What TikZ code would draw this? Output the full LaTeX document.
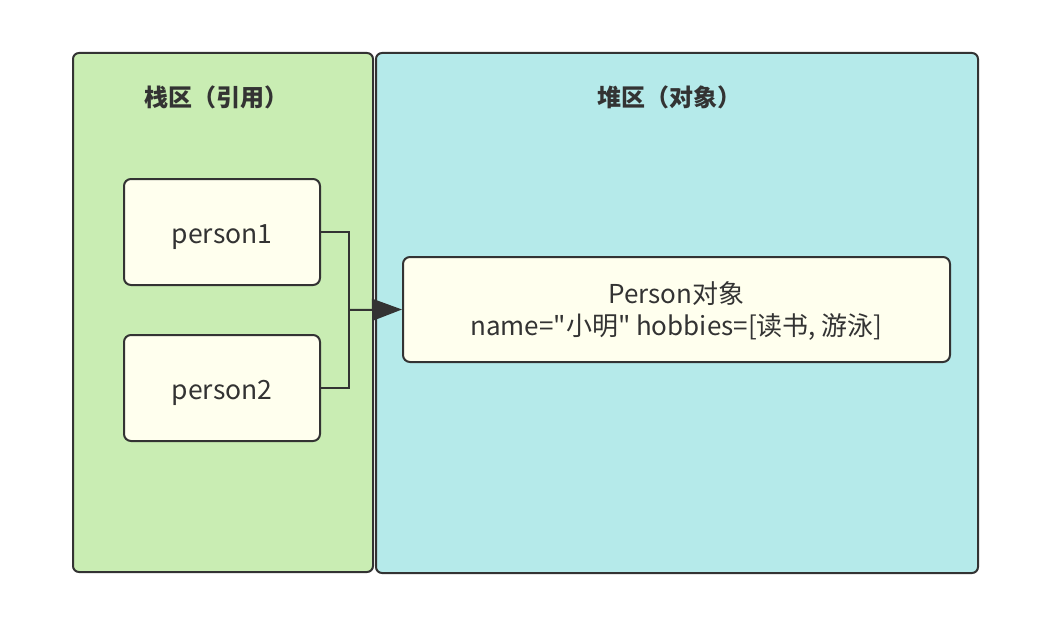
\documentclass[tikz,border=0pt]{standalone}
\usepackage{fontspec}
\setmainfont{Noto Sans CJK SC}
\newfontfamily\plainfont{Noto Sans CJK SC}
\usetikzlibrary{arrows.meta}
\definecolor{stackfill}{HTML}{C9EDB3}
\definecolor{heapfill}{HTML}{B5EAEA}
\definecolor{boxfill}{HTML}{FFFFEE}
\definecolor{edge}{HTML}{333333}
\begin{document}
\begin{tikzpicture}[x=1pt,y=-1pt,
  panel/.style={draw=edge,line width=2pt,rounded corners=6pt},
  itembox/.style={draw=edge,line width=2pt,rounded corners=7pt,fill=boxfill,text=edge,inner sep=0pt},
  title/.style={text=edge,font=\plainfont\bfseries\fontsize{24}{28}\selectfont},
  conn/.style={draw=edge,line width=2pt}]
\useasboundingbox (0,0) rectangle (1053,618);
\node[panel,fill=stackfill,minimum width=300pt,minimum height=519pt,anchor=north west] (stack) at (72,52) {};
\node[panel,fill=heapfill,minimum width=602pt,minimum height=520pt,anchor=north west] (heap) at (375,52) {};
\node[title] (stitle) at (216,97) {栈区（引用）};
\node[title] (htitle) at (669,97) {堆区（对象）};
\node[itembox,minimum width=196pt,minimum height=106pt,font=\plainfont\fontsize{26.5}{30}\selectfont] (p1) at (222,232) {\raisebox{-5pt}[\height][\depth]{person1}};
\node[itembox,minimum width=196pt,minimum height=106pt,font=\plainfont\fontsize{26.5}{30}\selectfont] (p2) at (222,388) {\raisebox{-5pt}[\height][\depth]{person2}};
\node[itembox,minimum width=547pt,minimum height=105pt,font=\plainfont\fontsize{26}{33}\selectfont] (obj) at (676.5,309.5) {\raisebox{-3pt}[\height][\depth]{\begin{tabular}{@{}c@{}}Person对象\\[-1pt]name="小明" hobbies=[读书, 游泳]\end{tabular}}};
\coordinate (j) at (349,310);
\draw[conn] (p1.east) -| (j);
\draw[conn] (p2.east) -| (j);
\draw[conn,-{Triangle[length=30pt,width=22pt]}] (j) -- (obj.west);
\end{tikzpicture}
\end{document}
